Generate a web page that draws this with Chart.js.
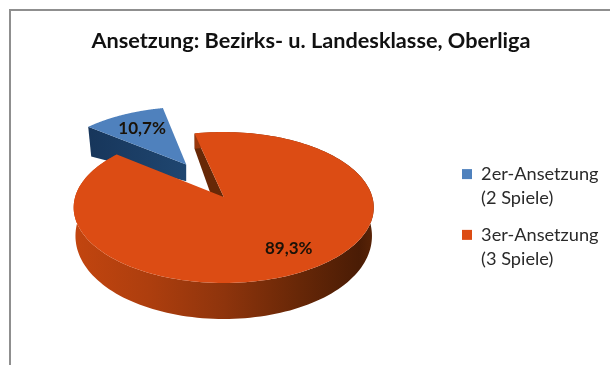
<!DOCTYPE html>
<html>
<head>
<meta charset="utf-8">
<script src="https://cdn.jsdelivr.net/npm/chart.js@4/dist/chart.umd.min.js"></script>
<style>
html,body{margin:0;padding:0;background:#fff;width:610px;height:365px;overflow:hidden}
#frame{position:absolute;left:9px;top:9px;width:601px;height:356px;border-left:2px solid #8f8f8f;border-top:2px solid #8f8f8f;box-sizing:border-box;filter:blur(.5px)}
#wrap{position:absolute;left:0;top:0;width:610px;height:365px;filter:blur(.5px)}
</style>
</head>
<body>
<div id="frame"></div>
<div id="wrap"><canvas id="c" width="610" height="365"></canvas></div>
<script>
const titleText = 'Ansetzung: Bezirks- u. Landesklasse, Oberliga';
const categories = [['2er-Ansetzung','(2 Spiele)'],['3er-Ansetzung','(3 Spiele)']];
const values = [10.7, 89.3];
const sliceColors = ['#4f81bd','#dc4c14'];
const explode = [0.54, 0];
const explodeTurn = [0.04, 0];
const labelRadius = [0.69, 0.75];
const labelTurn = [0.01, 0];

// Tilted-disc projection of the pie plane
const view = {rx:148.6, ry:74, k:0.139};
function project(apex,u,v){
  const w = 1 - view.k*v;
  return {x: apex.x + view.rx*u/w, y: apex.y + view.ry*v/w};
}
function depthOrange(u,v){ return 25.5 + 10.5*v + 1.5*u*u; }
function depthBlue(u,v){ return 12.3 - 16.6*u; }

const pie3d = {
  id:'pie3d',
  afterLayout(chart){
    const lg = chart.legend;
    lg.left = 450; lg.top = 153;
    const tb = chart.titleBlock;
    tb.left += 8; tb.right += 8;
  },
  beforeDatasetDraw(chart,args){
    const ctx = chart.ctx, meta = args.meta, arcs = meta.data;
    const apex = {x:arcs[0].x, y:arcs[0].y};
    const sliceGeom = arcs.map((a,i)=>{
      const p = a.getProps(['startAngle','endAngle']);
      const mid = (p.startAngle+p.endAngle)/2;
      const ou = Math.cos(mid+explodeTurn[i])*explode[i], ov = Math.sin(mid+explodeTurn[i])*explode[i];
      return {start:p.startAngle,end:p.endAngle,mid,ou,ov};
    });
    const depth = [depthBlue, depthOrange];
    const arcPts = (g,i)=>{
      const pts=[]; const n=180;
      for(let j=0;j<=n;j++){
        const t=g.start+(g.end-g.start)*j/n;
        const u=g.ou+Math.cos(t), v=g.ov+Math.sin(t);
        const q=project(apex,u,v);
        pts.push({x:q.x,y:q.y,d:depth[i](u,v)});
      }
      return pts;
    };
    const poly=(pts,fill)=>{
      ctx.beginPath(); pts.forEach((p,j)=> j?ctx.lineTo(p.x,p.y):ctx.moveTo(p.x,p.y));
      ctx.closePath(); ctx.fillStyle=fill; ctx.fill();
    };
    ctx.save();
    // blue slice: cut wall, then top face
    {
      const g=sliceGeom[0], pts=arcPts(g,0);
      const c=project(apex,g.ou,g.ov), cd=depthBlue(g.ou,g.ov);
      const a0=pts[0];
      const grad=ctx.createLinearGradient(a0.x,0,c.x,0);
      grad.addColorStop(0,'#17365b'); grad.addColorStop(1,'#1f4670');
      poly([a0,c,{x:c.x,y:c.y+cd},{x:a0.x+3,y:a0.y+a0.d}],grad);
      poly([c,...pts],sliceColors[0]);
    }
    // orange slice: cut wall, outer wall, top face
    {
      const g=sliceGeom[1], pts=arcPts(g,1);
      const c=project(apex,0,0), cd=depthOrange(0,0)+8;
      const a0=pts[0];
      poly([a0,c,{x:c.x,y:c.y+cd},{x:a0.x,y:a0.y+a0.d}],'#672807');
      const grad=ctx.createLinearGradient(75,0,374,0);
      grad.addColorStop(0,'#c2450f'); grad.addColorStop(.25,'#ad3e0e'); grad.addColorStop(.5,'#8e340c');
      grad.addColorStop(.75,'#672707'); grad.addColorStop(.95,'#4a1c05'); grad.addColorStop(1,'#5a2407');
      const bottom=pts.map(p=>({x:p.x+(224-p.x)*0.012,y:p.y+p.d})).reverse();
      poly([...pts,...bottom],grad);
      poly([c,...pts],sliceColors[1]);
    }
    // percentage labels
    ctx.font='bold 17px Lato'; ctx.fillStyle='#1a1208'; ctx.textAlign='center'; ctx.textBaseline='middle';
    sliceGeom.forEach((g,i)=>{
      const a=g.mid+labelTurn[i];
      const q=project(apex,g.ou+Math.cos(a)*labelRadius[i],g.ov+Math.sin(a)*labelRadius[i]);
      ctx.fillText(values[i].toFixed(1).replace('.',',')+'%',q.x,q.y);
    });
    ctx.restore();
    return false;
  }
};

new Chart(document.getElementById('c'),{
  type:'pie',
  data:{labels:categories,datasets:[{data:values,backgroundColor:sliceColors,borderWidth:0}]},
  plugins:[pie3d],
  options:{
    responsive:false,animation:false,rotation:-51.4,
    layout:{padding:{left:0,right:4,top:0,bottom:31}},
    plugins:{
      tooltip:{enabled:false},
      title:{display:true,text:titleText,color:'#111',font:{family:'Lato',size:21.7,weight:'bold'},padding:{top:28,bottom:6}},
      legend:{position:'right',align:'start',
        labels:{boxWidth:10,boxHeight:10,padding:12,color:'#2a2a2a',font:{family:'Lato',size:18.2,lineHeight:1.34}}}
    }
  }
});
</script>
</body>
</html>
